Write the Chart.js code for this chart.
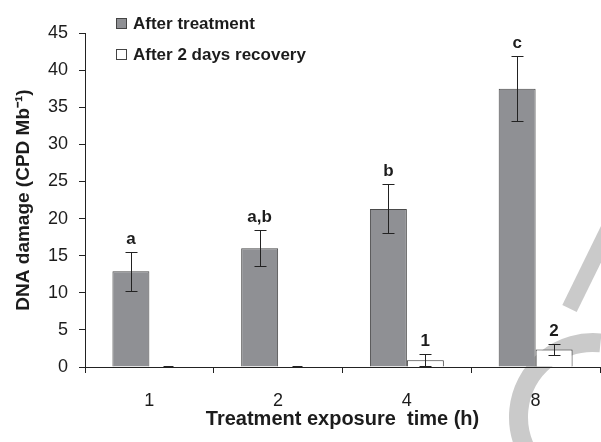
<!DOCTYPE html>
<html>
<head>
<meta charset="utf-8">
<script src="https://cdn.jsdelivr.net/npm/chart.js@4"></script>
<style>
  html, body { margin: 0; padding: 0; background: #ffffff; }
  #wrap { width: 601px; height: 442px; }
</style>
</head>
<body>
<div id="wrap"><canvas id="grafico"></canvas></div>
<script>
// dados
const categorias = ['1', '2', '4', '8'];
const aposTratamento = [12.9, 16.0, 21.3, 37.5];
const erroTratamento = [2.6, 2.4, 3.3, 4.4];
const aposRecuperacao = [0, 0, 0.9, 2.35];
const erroRecuperacao = [0, 0, 0.8, 0.75];
const letrasTratamento = ['a', 'a,b', 'b', 'c'];
const letrasRecuperacao = ['', '', '1', '2'];
const nomesSeries = ['After treatment', 'After 2 days recovery'];
const ticksY = [0, 5, 10, 15, 20, 25, 30, 35, 40, 45];

const corTexto = '#1c1c1c';
const fonte = '"Liberation Sans", Arial, sans-serif';

// marca d'agua cinza no canto direito
const marcaDagua = {
  id: 'marcaDagua',
  beforeDraw(chart) {
    const ctx = chart.ctx;
    ctx.save();
    ctx.strokeStyle = '#cacaca';
    ctx.lineCap = 'butt';
    ctx.lineWidth = 16;
    ctx.beginPath();
    ctx.moveTo(569.5, 308.5);
    ctx.lineTo(658, 128);
    ctx.stroke();
    ctx.lineWidth = 19;
    ctx.beginPath();
    ctx.arc(593, 417, 74.5, -1.47, 2.2, true);
    ctx.stroke();
    ctx.restore();
  }
};

// barras de erro e letras
const barrasErro = {
  id: 'barrasErro',
  afterDatasetsDraw(chart) {
    const ctx = chart.ctx;
    const y = chart.scales.y;
    const series = [
      { vals: aposTratamento, erros: erroTratamento, letras: letrasTratamento },
      { vals: aposRecuperacao, erros: erroRecuperacao, letras: letrasRecuperacao }
    ];
    ctx.save();
    series.forEach((s, i) => {
      const meta = chart.getDatasetMeta(i);
      meta.data.forEach((bar, j) => {
        const x = bar.x;
        const topo = s.vals[j] + s.erros[j];
        const base = Math.max(0, s.vals[j] - s.erros[j]);
        const xc = Math.round(x) + 0.5;
        ctx.strokeStyle = '#222';
        if (s.erros[j] > 0) {
          const yt = Math.round(y.getPixelForValue(topo)) + 0.5;
          const yb = Math.round(y.getPixelForValue(base)) + 0.5;
          ctx.lineWidth = 1;
          ctx.beginPath();
          ctx.moveTo(xc, yt); ctx.lineTo(xc, yb);
          ctx.moveTo(xc - 6, yt); ctx.lineTo(xc + 6, yt);
          ctx.moveTo(xc - 6, yb); ctx.lineTo(xc + 6, yb);
          ctx.stroke();
        } else {
          // erro nulo: so as tampas sobrepostas no zero
          const y0 = y.getPixelForValue(s.vals[j]);
          ctx.lineWidth = 2;
          ctx.beginPath();
          ctx.moveTo(xc - 5, y0); ctx.lineTo(xc + 5, y0);
          ctx.stroke();
        }
        if (s.letras[j]) {
          ctx.fillStyle = corTexto;
          ctx.font = 'bold 17px ' + fonte;
          ctx.textAlign = 'center';
          ctx.textBaseline = 'middle';
          ctx.fillText(s.letras[j], x, y.getPixelForValue(topo) - 13);
        }
      });
    });
    ctx.restore();
  }
};

// legenda desenhada a mao (empilhada no topo)
const legenda = {
  id: 'legenda',
  afterDraw(chart) {
    const ctx = chart.ctx;
    ctx.save();
    chart.data.datasets.forEach((ds, i) => {
      const yy = 18 + i * 31;
      ctx.fillStyle = ds.backgroundColor;
      ctx.fillRect(116, yy, 11, 11);
      ctx.strokeStyle = '#444';
      ctx.lineWidth = 1;
      ctx.strokeRect(116.5, yy + 0.5, 10, 10);
      ctx.fillStyle = corTexto;
      ctx.font = 'bold 17px ' + fonte;
      ctx.textAlign = 'left';
      ctx.textBaseline = 'middle';
      ctx.fillText(nomesSeries[i], 133, yy + 6);
    });
    ctx.restore();
  }
};

const grafico = new Chart(document.getElementById('grafico'), {
  type: 'bar',
  data: {
    labels: categorias,
    datasets: [
      {
        label: nomesSeries[0],
        data: aposTratamento,
        backgroundColor: '#8f9094',
        borderColor: '#4a4a4a',
        borderWidth: 1,
        categoryPercentage: 0.574,
        barPercentage: 1
      },
      {
        label: nomesSeries[1],
        data: aposRecuperacao,
        backgroundColor: '#ffffff',
        borderColor: '#333333',
        borderWidth: 1,
        categoryPercentage: 0.574,
        barPercentage: 1
      }
    ]
  },
  options: {
    responsive: true,
    maintainAspectRatio: false,
    animation: false,
    layout: { padding: { top: 33, right: 1, bottom: 0, left: 0 } },
    scales: {
      x: {
        grid: { offset: true, drawOnChartArea: false, drawTicks: true, tickLength: 6, color: '#222' },
        border: { display: true, color: '#222', width: 1 },
        ticks: { color: corTexto, font: { family: fonte, size: 18 }, padding: 17 },
        title: {
          display: true,
          text: 'Treatment exposure  time (h)',
          color: corTexto,
          font: { family: fonte, size: 20, weight: 'bold' },
          padding: { top: 0, bottom: 11 }
        },
        afterFit(scale) { scale.height = 75; }
      },
      y: {
        min: 0,
        max: 45,
        afterBuildTicks(scale) { scale.ticks = ticksY.map(v => ({ value: v })); },
        grid: { drawOnChartArea: false, drawTicks: true, tickLength: 6, color: '#222' },
        border: { display: true, color: '#222', width: 1 },
        ticks: { color: corTexto, font: { family: fonte, size: 18 }, padding: 11 },
        title: {
          display: true,
          text: 'DNA damage (CPD Mb\u207B\u00B9)',
          color: corTexto,
          font: { family: fonte, size: 19, weight: 'bold' },
          padding: { top: 12, bottom: 0 }
        },
        afterFit(scale) { scale.width = 85; }
      }
    },
    plugins: {
      legend: { display: false },
      tooltip: { enabled: false }
    }
  },
  plugins: [marcaDagua, barrasErro, legenda]
});
</script>
</body>
</html>
